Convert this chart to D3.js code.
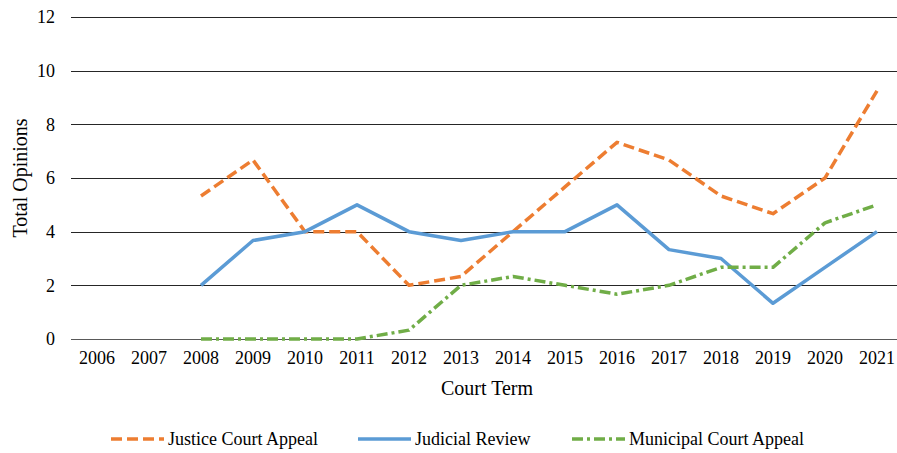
<!DOCTYPE html>
<html>
<head>
<meta charset="utf-8">
<script src="https://cdn.jsdelivr.net/npm/d3@7"></script>
</head>
<body style="margin:0; background:#fff">
<div id="bdy"></div>
<script>
var width = 897;
var height = 453;

// data
var years = ["2006","2007","2008","2009","2010","2011","2012","2013","2014","2015","2016","2017","2018","2019","2020","2021"];
var yTicks = [0, 2, 4, 6, 8, 10, 12];
var justiceCourt = [null, null, 5.33, 6.67, 4, 4, 2, 2.33, 4, 5.67, 7.33, 6.67, 5.33, 4.67, 6, 9.25];
var judicialReview = [null, null, 2, 3.67, 4, 5, 4, 3.67, 4, 4, 5, 3.33, 3, 1.33, 2.67, 4];
var municipalCourt = [null, null, 0, 0, 0, 0, 0.33, 2, 2.33, 2, 1.67, 2, 2.67, 2.67, 4.33, 5];

var seriesNames = ["Justice Court Appeal", "Judicial Review", "Municipal Court Appeal"];
var seriesValues = [justiceCourt, judicialReview, municipalCourt];
var seriesColors = ["#ED7D31", "#5B9BD5", "#70AD47"];
var seriesDash = ["11,5", null, "11,4,3,4"];

var margin = {top: 17, left: 71};
var bandW = 52;
var innerW = bandW * years.length;      // runs a little past the right edge, as in the original
var innerH = 322;

var svg = d3.select('#bdy').append('svg')
    .attr('width', width)
    .attr('height', height);

var g = svg.append('g')
    .attr('transform', 'translate(' + margin.left + ',' + margin.top + ')');

var xScale = d3.scaleBand()
    .domain(years)
    .range([0, innerW]);

var yScale = d3.scaleLinear()
    .domain([0, 12])
    .range([innerH, 0]);

// gridlines
g.selectAll('.grid')
    .data(yTicks)
    .enter().append('line')
      .attr('class', 'grid')
      .attr('x1', 0)
      .attr('x2', width - margin.left)
      .attr('y1', function(d) { return Math.round(yScale(d)) + 0.5; })
      .attr('y2', function(d) { return Math.round(yScale(d)) + 0.5; })
      .attr('stroke', function(d) { return d == 0 ? '#595959' : '#262626'; })
      .attr('stroke-width', 1.2);

// y axis labels
var yAxis = g.append('g')
    .call(d3.axisLeft(yScale).tickValues(yTicks).tickSize(0).tickPadding(16));
yAxis.select('.domain').remove();
yAxis.selectAll('text').attr('fill', '#000');

// x axis labels
var xAxis = g.append('g')
    .attr('transform', 'translate(0,' + innerH + ')')
    .call(d3.axisBottom(xScale).tickSize(0).tickPadding(12));
xAxis.select('.domain').remove();
xAxis.selectAll('text').attr('fill', '#000');

// axis titles
svg.append('text')
    .attr('class', 'title')
    .attr('transform', 'translate(27,178) rotate(-90)')
    .attr('text-anchor', 'middle')
    .text('Total Opinions');

svg.append('text')
    .attr('class', 'title')
    .attr('x', 487)
    .attr('y', 395)
    .attr('text-anchor', 'middle')
    .text('Court Term');

// lines
seriesValues.forEach(function(vals, i) {
    var pts = years.map(function(y, j) { return {year: y, v: vals[j]}; })
        .filter(function(d) { return d.v != null; });
    var line = d3.line()
        .x(function(d) { return xScale(d.year) + xScale.bandwidth() / 2; })
        .y(function(d) { return yScale(d.v); });
    g.append('path')
        .datum(pts)
        .attr('d', line)
        .attr('fill', 'none')
        .attr('stroke', seriesColors[i])
        .attr('stroke-width', 3.5)
        .attr('stroke-linejoin', 'round')
        .attr('stroke-dasharray', seriesDash[i]);
});

// legend
var legendX = [111, 358, 572];
var legend = svg.selectAll('.legend')
    .data(seriesNames)
    .enter().append('g')
      .attr('class', 'legend')
      .attr('transform', function(d, i) { return 'translate(' + legendX[i] + ',439)'; });

legend.append('line')
    .attr('x1', 0).attr('x2', 53)
    .attr('y1', 0).attr('y2', 0)
    .attr('stroke', function(d, i) { return seriesColors[i]; })
    .attr('stroke-width', 3.5)
    .attr('stroke-dasharray', function(d, i) { return seriesDash[i]; });

legend.append('text')
    .attr('x', 57)
    .attr('y', 6)
    .text(function(d) { return d; });

// fonts
svg.selectAll('text')
    .attr('font-family', null)
    .style('font-family', "'Liberation Serif'")
    .style('font-size', '18px')
    .style('fill', '#000');
svg.selectAll('.title').style('font-size', '20px');
svg.selectAll('.tick text').style('font-size', '18px');
g.selectAll('.tick').attr('font-family', null);
g.selectAll('g').attr('font-family', null).attr('font-size', null);
</script>
</body>
</html>
